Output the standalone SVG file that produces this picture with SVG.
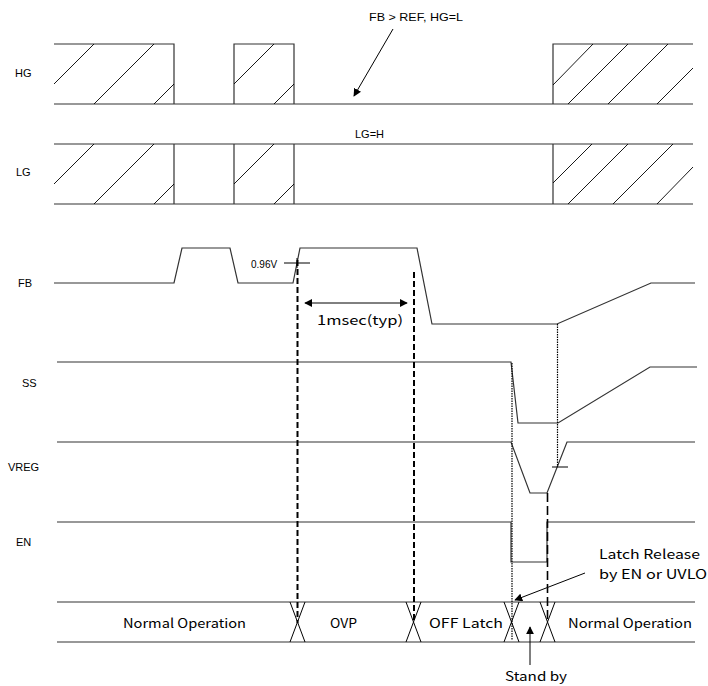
<svg xmlns="http://www.w3.org/2000/svg" width="708" height="686" viewBox="0 0 708 686">
<defs>
<marker id="ah" viewBox="0 0 10 10" refX="9" refY="5" markerWidth="8" markerHeight="8" markerUnits="userSpaceOnUse" orient="auto-start-reverse"><path d="M0,0 L10,5 L0,10 z" fill="#000"/></marker>
<style>
.sig{fill:none;stroke:#333;stroke-width:1.2}
.h{fill:none;stroke:#000;stroke-width:0.9}
.lbl{font-family:"Liberation Sans",Arial,sans-serif;font-size:11px;fill:#000}
.jp{font-family:"Noto Sans CJK JP","DejaVu Sans",sans-serif;font-size:13px;fill:#000}
.dash{stroke:#000;stroke-width:2;stroke-dasharray:6 3;fill:none}
.ldash{stroke:#000;stroke-width:1.6;stroke-dasharray:9 4;fill:none}
.dot{stroke:#000;stroke-width:1.2;stroke-dasharray:1.5 1;fill:none}
.arr{stroke:#000;stroke-width:1;fill:none}
</style>
</defs>
<rect width="708" height="686" fill="#fff"/>

<g id="HG">
<text class="lbl" x="15" y="77">HG</text>
<path class="sig" d="M54,104 H693 M54,44 H174 V104 M234,104 V44 H294 V104 M553,104 V44 H693"/>
<path class="h" d="M54,84 L94,44 M94,104 L154,44 M154,104 L174,84 M234,84 L274,44 M274,104 L294,84 M553,85 L593,44 M568,104 L628,44 M608,104 L668,44 M657,104 L693,68"/>
</g>

<g id="LG">
<text class="lbl" x="16" y="176">LG</text>
<path class="sig" d="M54,144 H693 M54,204 H693 M174,144 V204 M234,144 V204 M294,144 V204 M553,144 V204"/>
<path class="h" d="M54,184 L94,144 M94,204 L154,144 M154,204 L174,184 M234,184 L274,144 M274,204 L294,184 M553,183 L592,144 M568,204 L628,144 M613,204 L673,144 M657,204 L693,167"/>
</g>

<g id="FB">
<text class="lbl" x="18" y="287">FB</text>
<path class="sig" d="M54,283 H174 L182,248 H230 L238,283 H293 L300,248 H417 L432,324 H557 L651,283 H695"/>
<text class="lbl" x="251" y="268" style="font-size:10px">0.96V</text>
<path class="arr" d="M284,263 H310 M297,258 V268"/>
</g>

<g id="SS">
<text class="lbl" x="22" y="387">SS</text>
<path class="sig" d="M57,362 H511 L518,423 H558 L650,367 H697"/>
</g>

<g id="VREG">
<text class="lbl" x="8" y="471">VREG</text>
<path class="sig" d="M57,442 H511 L530,493 H547 L567,442 H695"/>
<path class="arr" d="M552,467 H568"/>
</g>

<g id="EN">
<text class="lbl" x="16" y="546">EN</text>
<path class="sig" d="M57,522 H511 V562 H547 V522 H695"/>
</g>

<g id="state">
<path class="sig" d="M57,602 H695 M57,642 H695"/>
<path class="arr" d="M290,602 L305,642 M305,602 L290,642 M406,602 L421,642 M421,602 L406,642 M504,602 L519,642 M519,602 L504,642 M540,602 L555,642 M555,602 L540,642"/>
<text class="jp" x="123" y="628" textLength="123" lengthAdjust="spacingAndGlyphs">Normal Operation</text>
<text class="jp" x="330" y="628" textLength="27" lengthAdjust="spacingAndGlyphs">OVP</text>
<text class="jp" x="429" y="628" textLength="74" lengthAdjust="spacingAndGlyphs">OFF Latch</text>
<text class="jp" x="568" y="628" textLength="124" lengthAdjust="spacingAndGlyphs">Normal Operation</text>
</g>

<g id="annotations">
<text class="lbl" x="369" y="21" textLength="94" lengthAdjust="spacingAndGlyphs">FB &gt; REF, HG=L</text>
<text class="lbl" x="355" y="138">LG=H</text>
<text class="jp" x="317" y="325" textLength="86" lengthAdjust="spacingAndGlyphs">1msec(typ)</text>
<text class="jp" x="599" y="559" textLength="101" lengthAdjust="spacingAndGlyphs">Latch Release</text>
<text class="jp" x="599" y="579" textLength="108" lengthAdjust="spacingAndGlyphs">by EN or UVLO</text>
<text class="jp" x="505" y="681" textLength="62" lengthAdjust="spacingAndGlyphs">Stand by</text>
</g>

<g id="connectors">
<path class="dash" d="M297.5,260 V623"/>
<path class="dash" d="M414,272 V623"/>
<path class="dot" d="M512,363 V640"/>
<path class="dot" d="M557.5,324 V467"/>
<path class="ldash" d="M547.5,493 V623"/>
<path class="arr" marker-end="url(#ah)" d="M393,29 L354,96"/>
<path class="arr" marker-start="url(#ah)" marker-end="url(#ah)" d="M305,303 H407"/>
<path class="arr" marker-end="url(#ah)" d="M585,573 L515,600"/>
<path class="arr" marker-end="url(#ah)" d="M530,665 V627"/>
</g>
</svg>
